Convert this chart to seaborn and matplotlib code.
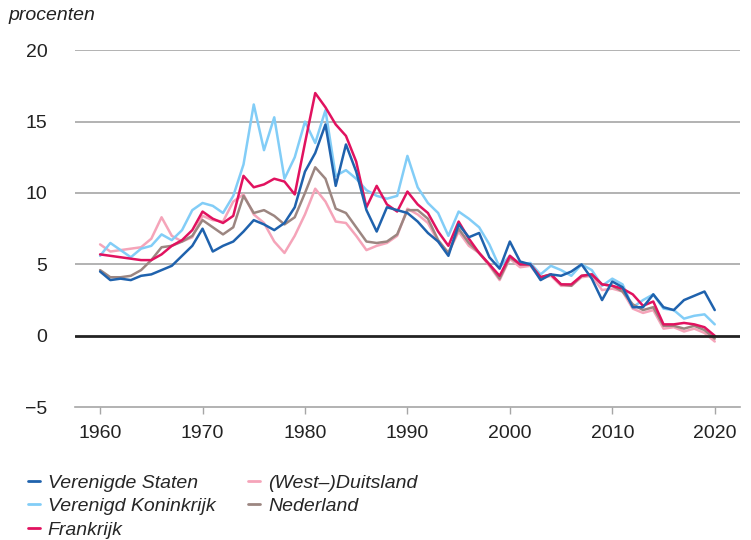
import numpy as np
import pandas as pd
import seaborn as sns
import matplotlib.pyplot as plt
from matplotlib.lines import Line2D

# jaren (begin van elk jaar), 1960-2020
years = list(range(1960, 2021))

verenigde_staten = [4.5, 3.9, 4.0, 3.9, 4.2, 4.3, 4.6, 4.9, 5.6, 6.3,
                    7.5, 5.9, 6.3, 6.6, 7.3, 8.1, 7.8, 7.4, 7.9, 9.0,
                    11.5, 12.8, 14.8, 10.5, 13.4, 11.5, 8.8, 7.3, 9.0, 8.8,
                    8.6, 8.0, 7.2, 6.6, 5.6, 7.8, 6.9, 7.2, 5.5, 4.7,
                    6.6, 5.2, 5.0, 3.9, 4.3, 4.2, 4.5, 5.0, 4.0, 2.5,
                    3.8, 3.4, 2.0, 2.0, 2.9, 2.0, 1.8, 2.5, 2.8, 3.1, 1.8]
verenigd_koninkrijk = [5.6, 6.5, 6.0, 5.5, 6.1, 6.3, 7.1, 6.7, 7.4, 8.8,
                       9.3, 9.1, 8.6, 9.8, 12.0, 16.2, 13.0, 15.3, 11.0, 12.5,
                       15.0, 13.5, 15.8, 11.2, 11.6, 11.0, 10.2, 9.8, 9.6, 9.8,
                       12.6, 10.4, 9.3, 8.6, 7.0, 8.7, 8.2, 7.6, 6.4, 4.8,
                       5.6, 5.0, 5.1, 4.3, 4.9, 4.6, 4.2, 5.0, 4.6, 3.5,
                       4.0, 3.6, 2.0, 2.5, 2.9, 1.9, 1.8, 1.2, 1.4, 1.5, 0.8]
frankrijk = [5.7, 5.6, 5.5, 5.4, 5.3, 5.3, 5.7, 6.3, 6.7, 7.4,
             8.7, 8.2, 7.9, 8.4, 11.2, 10.4, 10.6, 11.0, 10.8, 9.9,
             13.5, 17.0, 16.0, 14.8, 14.0, 12.2, 9.0, 10.5, 9.2, 8.7,
             10.1, 9.2, 8.6, 7.3, 6.3, 8.0, 6.8, 5.8, 5.0, 4.2,
             5.6, 5.0, 5.0, 4.1, 4.3, 3.6, 3.6, 4.2, 4.3, 3.6,
             3.5, 3.3, 2.9, 2.1, 2.4, 0.8, 0.8, 0.9, 0.8, 0.6, 0.0]
duitsland = [6.4, 5.9, 6.0, 6.1, 6.2, 6.8, 8.3, 7.0, 6.6, 6.9,
             8.4, 8.1, 8.0, 9.4, 9.9, 8.5, 7.9, 6.6, 5.8, 7.0,
             8.5, 10.3, 9.4, 8.0, 7.9, 7.0, 6.0, 6.3, 6.5, 7.0,
             8.9, 8.5, 7.9, 6.6, 5.8, 7.3, 6.3, 5.8, 4.9, 3.9,
             5.4, 4.8, 4.9, 4.0, 4.2, 3.5, 3.5, 4.1, 4.2, 3.2,
             3.3, 3.1, 1.9, 1.6, 1.8, 0.5, 0.6, 0.3, 0.5, 0.2, -0.4]
nederland = [4.6, 4.1, 4.1, 4.2, 4.6, 5.3, 6.2, 6.3, 6.6, 7.0,
             8.1, 7.6, 7.1, 7.6, 9.8, 8.6, 8.8, 8.4, 7.8, 8.3,
             10.0, 11.8, 11.0, 8.9, 8.6, 7.6, 6.6, 6.5, 6.6, 7.1,
             8.8, 8.8, 8.2, 6.7, 5.8, 7.5, 6.5, 5.8, 5.0, 4.0,
             5.5, 5.0, 5.0, 4.1, 4.3, 3.6, 3.5, 4.2, 4.3, 3.6,
             3.5, 3.1, 2.2, 1.8, 2.0, 0.7, 0.7, 0.5, 0.7, 0.4, -0.2]

labels = ["Verenigde Staten", "Verenigd Koninkrijk", "Frankrijk",
          "(West\u2013)Duitsland", "Nederland"]
colors = ["#1f62ad", "#82cdf7", "#e1125f", "#f5a4b9", "#9c8681"]
series = [verenigde_staten, verenigd_koninkrijk, frankrijk, duitsland, nederland]

df = pd.concat([pd.DataFrame({"jaar": years, "rente": s, "land": lab})
                for s, lab in zip(series, labels)], ignore_index=True)

sns.set_theme(style="white")
plt.rcParams['font.family'] = ['Liberation Sans', 'DejaVu Sans']

fig = plt.figure(figsize=(7.51, 5.40), dpi=100)
ax = fig.add_axes([0.1, 0.246, 0.885, 0.661])

for y in [5, 10, 15, 20]:
    ax.axhline(y, color="#a6a6a6", lw=1.2, zorder=0)

# draw order: Germany and UK behind, US on top
order = ["(West\u2013)Duitsland", "Verenigd Koninkrijk", "Nederland", "Frankrijk", "Verenigde Staten"]
pal = dict(zip(labels, colors))
for lab in order:
    sns.lineplot(data=df[df.land == lab], x="jaar", y="rente", color=pal[lab],
                 lw=1.8, ax=ax, legend=False)

ax.axhline(0, color="#222222", lw=2.0, zorder=5)

ax.set_xlim(1957.56, 2022.44)
ax.set_ylim(-5, 20)
ax.set_xticks(range(1960, 2021, 10))
ax.set_yticks([-5, 0, 5, 10, 15, 20])
ax.set_yticklabels(["\u22125", "0", "5", "10", "15", "20"])
ax.set_xlabel("")
ax.set_ylabel("")
for side in ["left", "right", "top"]:
    ax.spines[side].set_visible(False)
ax.spines["bottom"].set_color("#a6a6a6")
ax.spines["bottom"].set_linewidth(1.2)
ax.tick_params(axis="x", length=5, width=1, color="#a6a6a6", direction="out",
               labelsize=14, labelcolor="#222222", pad=8, bottom=True)
ax.tick_params(axis="y", length=0, labelsize=14, labelcolor="#222222", pad=20)

fig.text(0.011, 0.972, "procenten", fontsize=14, style="italic",
         color="#222222", va="center", ha="left")

handles = [Line2D([0], [0], color=c, lw=2) for c in colors]
fig.legend(handles, labels, ncol=2, loc="upper left", bbox_to_anchor=(0.037, 0.122),
           frameon=False, prop={"size": 14, "style": "italic"},
           handlelength=0.62, handletextpad=0.4, columnspacing=1.7,
           labelspacing=0.3, borderaxespad=0, borderpad=0)

fig.savefig("out.png", dpi=100)
plt.close(fig)
